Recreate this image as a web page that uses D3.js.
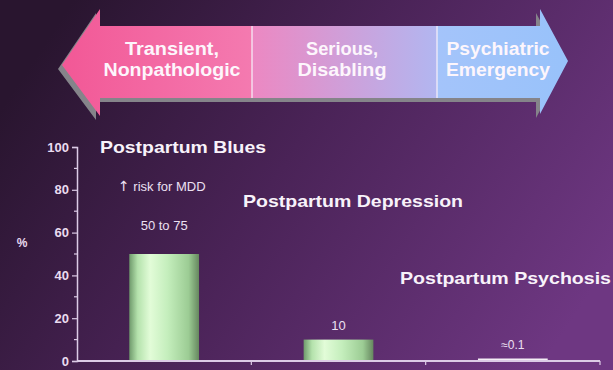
<!DOCTYPE html>
<html>
<head>
<meta charset="utf-8">
<script src="https://cdn.jsdelivr.net/npm/d3@7"></script>
<style>
  html, body { margin: 0; padding: 0; background: #3e2149; }
  svg { display: block; }
</style>
</head>
<body>
<div id="chart"></div>
<script>
const categories = ["Postpartum Blues", "Postpartum Depression", "Postpartum Psychosis"];
const values = [50, 10, 0.1];
const value_labels = ["50 to 75", "10", "\u22480.1"];
const y_ticks = [0, 20, 40, 60, 80, 100];
const y_minor_ticks = [10, 30, 50, 70, 90];
const stage_lines = [["Transient,", "Nonpathologic"], ["Serious,", "Disabling"], ["Psychiatric", "Emergency"]];
const note_arrow = "\u2191";
const note_text = " risk for MDD";

const width = 613, height = 370;
const font = "'Liberation Sans', Arial, sans-serif";

const svg = d3.select('#chart')
    .append('svg')
    .attr('width', width)
    .attr('height', height);

const defs = svg.append('defs');

// background: dark purple on the left, lighter on the right
const bg = defs.append('linearGradient')
    .attr('id', 'bg-grad')
    .attr('x1', '0%').attr('y1', '30%')
    .attr('x2', '100%').attr('y2', '70%');
bg.append('stop').attr('offset', '0%').attr('stop-color', '#29152f');
bg.append('stop').attr('offset', '45%').attr('stop-color', '#4a2357');
bg.append('stop').attr('offset', '100%').attr('stop-color', '#6e3782');

svg.append('rect')
    .attr('width', width)
    .attr('height', height)
    .attr('fill', 'url(#bg-grad)');

// arrow colours: pink -> lavender -> light blue
const arrow_grad = defs.append('linearGradient')
    .attr('id', 'arrow-grad')
    .attr('gradientUnits', 'userSpaceOnUse')
    .attr('x1', 62).attr('y1', 0)
    .attr('x2', 568).attr('y2', 0);
[
    [0, '#f25896'], [0.375, '#f47ab0'],
    [0.377, '#ec88c2'], [0.74, '#b2b6f0'],
    [0.742, '#a4c4fa'], [1, '#98c2fa']
].forEach(s => arrow_grad.append('stop')
    .attr('offset', s[0])
    .attr('stop-color', s[1]));

const bar_grad = defs.append('linearGradient')
    .attr('id', 'bar-grad')
    .attr('x1', '0%').attr('x2', '100%');
[
    [0, '#6f9a6c'], [0.12, '#b4e2ac'], [0.3, '#e2fcd8'],
    [0.55, '#c4eebc'], [0.85, '#9ccc94'], [1, '#66875f']
].forEach(s => bar_grad.append('stop')
    .attr('offset', s[0])
    .attr('stop-color', s[1]));

// double arrow on top
const arrow_path = 'M62,65 L100,9 L100,26 L540,26 L540,9 L568,61 L540,114 L540,98 L100,98 L100,116 Z';

svg.append('path')
    .attr('d', arrow_path)
    .attr('transform', 'translate(-4,4)')
    .attr('fill', '#85848a');

svg.append('path')
    .attr('d', arrow_path)
    .attr('fill', 'url(#arrow-grad)');

[252, 437].forEach(x => {
    svg.append('line')
        .attr('x1', x).attr('x2', x)
        .attr('y1', 26).attr('y2', 98)
        .attr('stroke', '#f6eefa')
        .attr('stroke-width', 1.5)
        .attr('opacity', 0.85);
});

const stage_pos = [
    { x: 172, w: [94, 137] },
    { x: 342, w: [72, 89] },
    { x: 498, w: [103, 104] }
];
stage_lines.forEach((lines, i) => {
    lines.forEach((line, j) => {
        svg.append('text')
            .attr('x', stage_pos[i].x)
            .attr('y', 55 + j * 21)
            .attr('text-anchor', 'middle')
            .attr('font-family', font)
            .attr('font-weight', 'bold')
            .attr('font-size', '18px')
            .attr('fill', '#fdf6fc')
            .attr('textLength', stage_pos[i].w[j])
            .attr('lengthAdjust', 'spacingAndGlyphs')
            .text(line);
    });
});

// chart scales
const x = d3.scaleBand()
    .domain(categories)
    .range([77, 600])
    .paddingInner(0.6)
    .paddingOuter(0.3);

const y = d3.scaleLinear()
    .domain([0, 100])
    .range([361, 147]);

const axis_color = '#dccbe6';

// y axis
const y_axis = svg.append('g')
    .attr('transform', 'translate(77,0)')
    .call(d3.axisLeft(y).tickValues(y_ticks).tickSize(5).tickPadding(3));
y_axis.select('.domain').attr('stroke', axis_color).attr('stroke-width', 1.5);
y_axis.selectAll('.tick line').attr('stroke', axis_color).attr('stroke-width', 1.2);
y_axis.selectAll('.tick text')
    .attr('fill', '#eadcf0')
    .attr('font-family', font)
    .attr('font-weight', 'bold')
    .attr('font-size', '13px');

svg.append('g')
    .selectAll('line')
    .data(y_minor_ticks)
    .join('line')
    .attr('x1', 74).attr('x2', 77)
    .attr('y1', d => y(d)).attr('y2', d => y(d))
    .attr('stroke', axis_color)
    .attr('stroke-width', 1.2);

svg.append('text')
    .attr('x', 22)
    .attr('y', 247)
    .attr('text-anchor', 'middle')
    .attr('font-family', font)
    .attr('font-weight', 'bold')
    .attr('font-size', '12px')
    .attr('fill', '#eadcf0')
    .text('%');

// bars
const bar_h = d => Math.max(2.5, y(0) - y(d));
svg.append('g')
    .selectAll('rect')
    .data(values)
    .join('rect')
    .attr('x', (d, i) => x(categories[i]))
    .attr('y', d => y(0) - bar_h(d))
    .attr('width', x.bandwidth())
    .attr('height', d => bar_h(d))
    .attr('fill', d => d < 1 ? '#f4eef6' : 'url(#bar-grad)');

// x axis
svg.append('line')
    .attr('x1', x.range()[0]).attr('x2', x.range()[1])
    .attr('y1', y(0)).attr('y2', y(0))
    .attr('stroke', axis_color)
    .attr('stroke-width', 2);

svg.append('g')
    .selectAll('line')
    .data(categories)
    .join('line')
    .attr('x1', (d, i) => x.range()[0] + (i + 1) * x.step())
    .attr('x2', (d, i) => x.range()[0] + (i + 1) * x.step())
    .attr('y1', y(0)).attr('y2', y(0) + 4)
    .attr('stroke', axis_color)
    .attr('stroke-width', 1.2);

// category titles, stepped down to the right
const title_pos = [
    { x: 100, y: 153, w: 166 },
    { x: 243, y: 207, w: 220 },
    { x: 400, y: 284, w: 211 }
];
categories.forEach((c, i) => {
    svg.append('text')
        .attr('x', title_pos[i].x)
        .attr('y', title_pos[i].y)
        .attr('font-family', font)
        .attr('font-weight', 'bold')
        .attr('font-size', '17px')
        .attr('fill', '#f8f2fa')
        .attr('textLength', title_pos[i].w)
        .attr('lengthAdjust', 'spacingAndGlyphs')
        .text(c);
});

// value labels above bars
const label_gap = [24, 10, 12];
const label_size = [13, 13, 12];
value_labels.forEach((t, i) => {
    svg.append('text')
        .attr('x', x(categories[i]) + x.bandwidth() / 2)
        .attr('y', y(values[i]) - label_gap[i])
        .attr('text-anchor', 'middle')
        .attr('font-family', font)
        .attr('font-size', label_size[i] + 'px')
        .attr('fill', '#ece0f2')
        .text(t);
});

const note = svg.append('text')
    .attr('x', 118)
    .attr('y', 191)
    .attr('font-family', font)
    .attr('font-size', '13px')
    .attr('fill', '#ece0f2');
note.append('tspan')
    .attr('font-family', "'DejaVu Sans', sans-serif")
    .attr('font-size', '14px')
    .text(note_arrow);
note.append('tspan')
    .text(note_text);
</script>
</body>
</html>
